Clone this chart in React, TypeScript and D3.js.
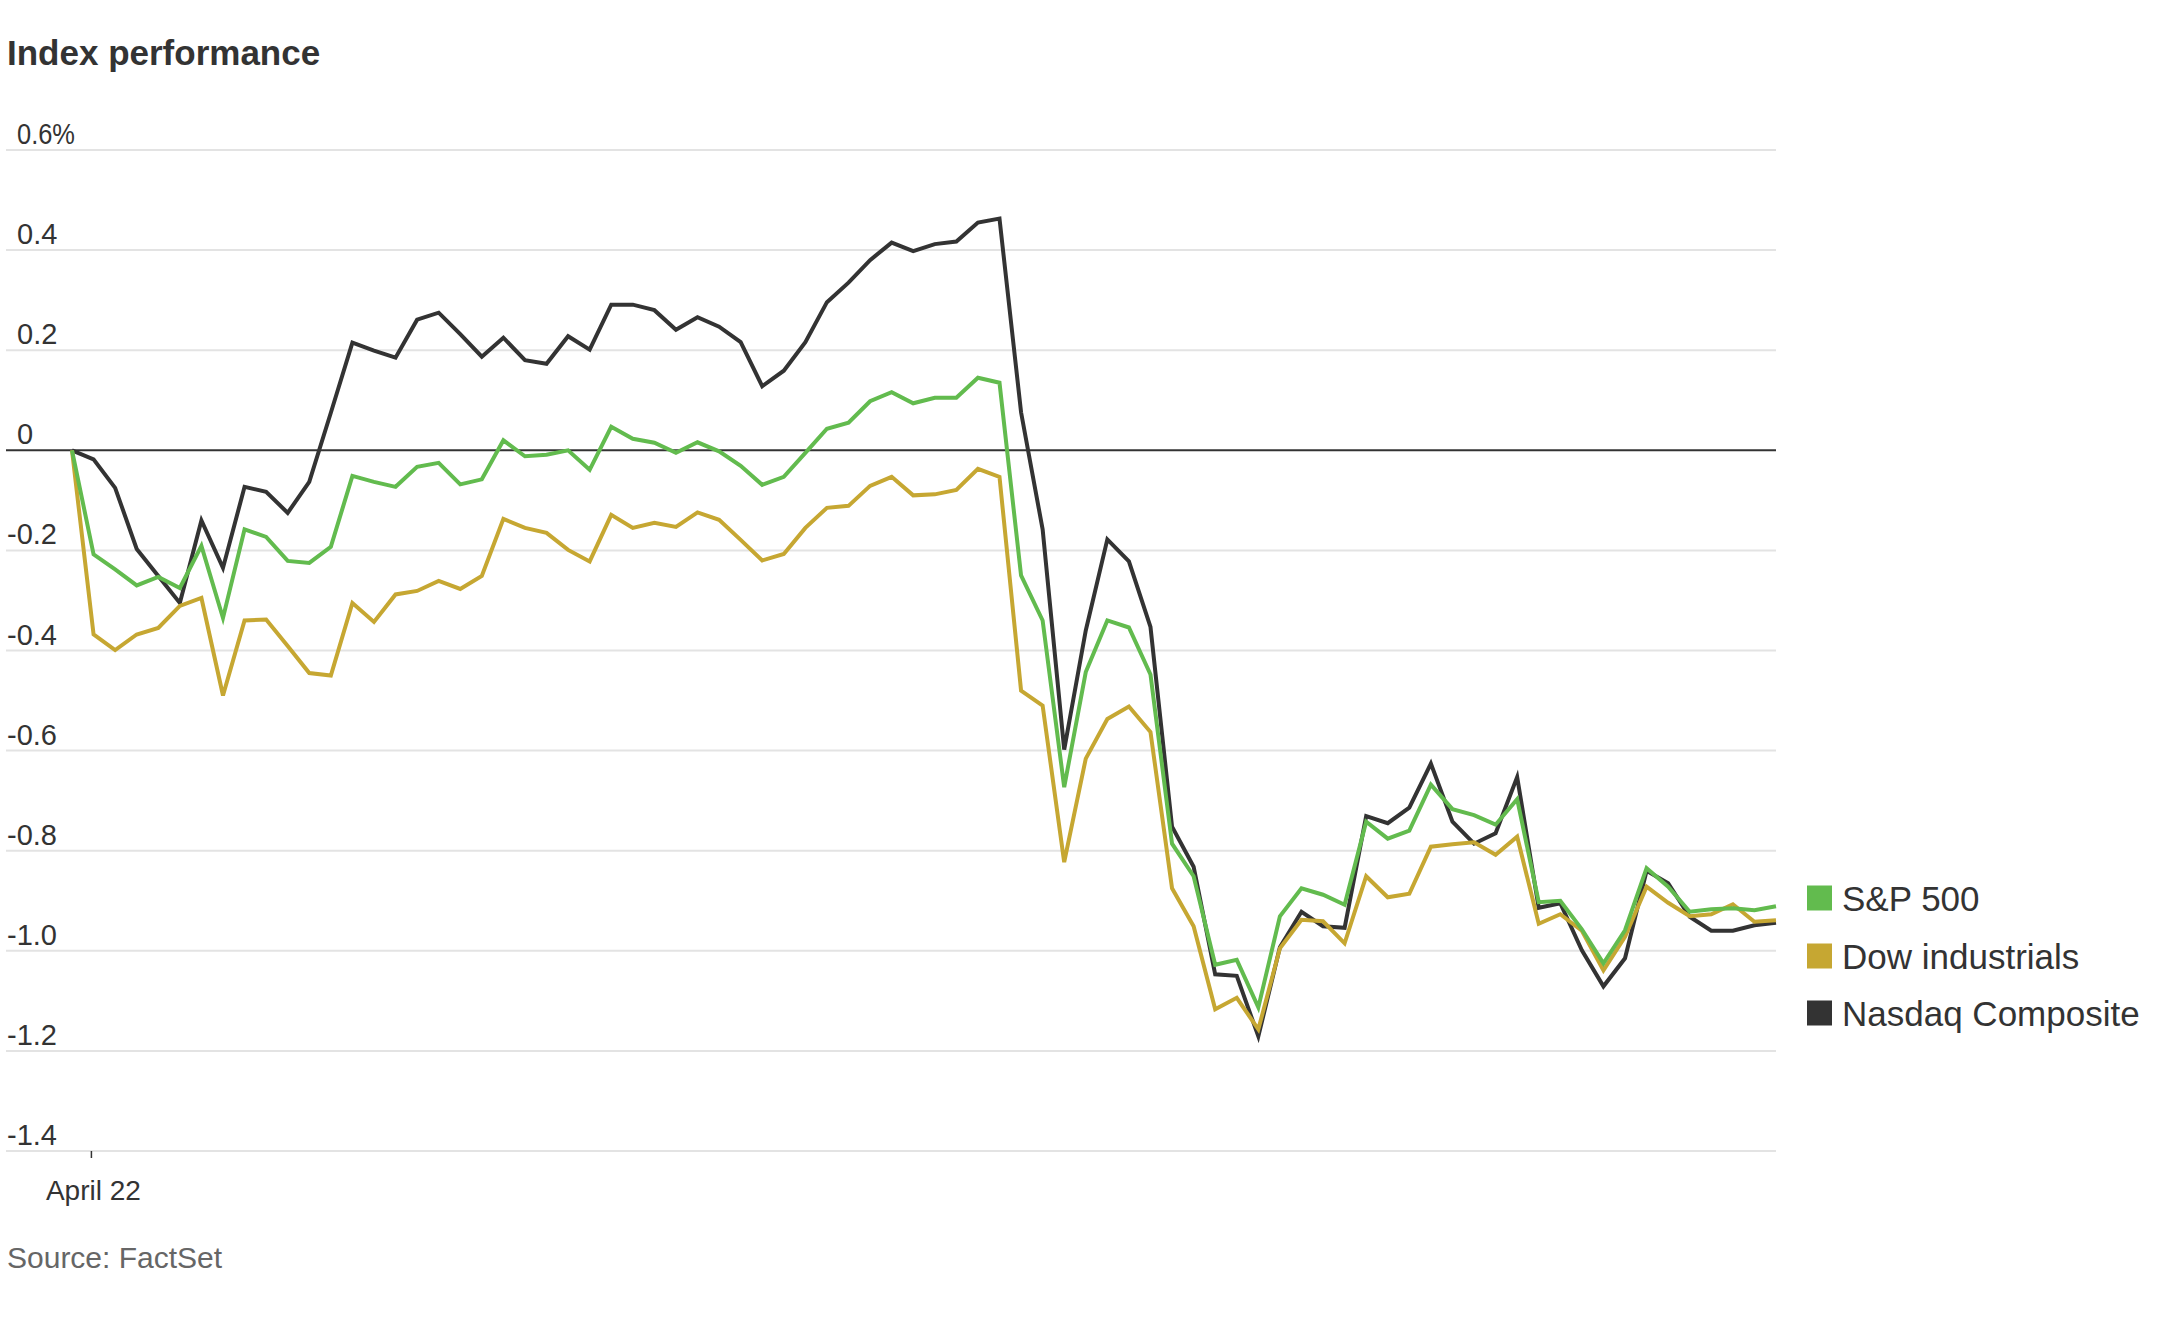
import React from "react";
import * as d3 from "d3";

const seriesNames = ["S&P 500", "Dow industrials", "Nasdaq Composite"];
const seriesColors = ["#62bb4e", "#c6a732", "#333333"];

const nasdaq = [
  0, -0.018, -0.075, -0.197, -0.251, -0.305, -0.14, -0.235, -0.073, -0.083,
  -0.125, -0.063, 0.075, 0.215, 0.199, 0.185, 0.261, 0.275, 0.232, 0.187,
  0.225, 0.18, 0.173, 0.228, 0.201, 0.291, 0.291, 0.28, 0.241, 0.266,
  0.247, 0.216, 0.128, 0.159, 0.216, 0.296, 0.335, 0.38, 0.415, 0.398,
  0.412, 0.417, 0.455, 0.463, 0.076, -0.158, -0.598, -0.36, -0.178, -0.222,
  -0.353, -0.752, -0.832, -1.047, -1.05, -1.171, -0.993, -0.922, -0.951, -0.954,
  -0.731, -0.745, -0.714, -0.626, -0.742, -0.786, -0.765, -0.653, -0.914, -0.905,
  -0.999, -1.071, -1.015, -0.84, -0.865, -0.932, -0.96, -0.96, -0.949, -0.944,
];

const sp500 = [
  0, -0.208, -0.238, -0.27, -0.253, -0.275, -0.191, -0.335, -0.158, -0.173,
  -0.221, -0.225, -0.193, -0.051, -0.063, -0.073, -0.033, -0.025, -0.068, -0.058,
  0.02, -0.012, -0.009, 0.0, -0.039, 0.047, 0.023, 0.015, -0.005, 0.016,
  -0.002, -0.031, -0.069, -0.053, -0.005, 0.043, 0.055, 0.098, 0.116, 0.094,
  0.105, 0.105, 0.145, 0.135, -0.25, -0.34, -0.673, -0.443, -0.34, -0.354,
  -0.448, -0.786, -0.851, -1.028, -1.018, -1.113, -0.931, -0.875, -0.888, -0.908,
  -0.742, -0.776, -0.76, -0.668, -0.717, -0.729, -0.748, -0.697, -0.903, -0.9,
  -0.957, -1.025, -0.959, -0.835, -0.872, -0.922, -0.917, -0.915, -0.919, -0.911,
];

const dow = [
  0, -0.368, -0.399, -0.368, -0.355, -0.311, -0.295, -0.49, -0.34, -0.338,
  -0.391, -0.445, -0.45, -0.305, -0.343, -0.288, -0.281, -0.261, -0.277, -0.251,
  -0.137, -0.155, -0.165, -0.199, -0.222, -0.129, -0.155, -0.145, -0.153, -0.124,
  -0.139, -0.179, -0.22, -0.207, -0.155, -0.115, -0.111, -0.071, -0.053, -0.09,
  -0.088, -0.079, -0.037, -0.053, -0.48, -0.51, -0.823, -0.616, -0.537, -0.512,
  -0.563, -0.875, -0.951, -1.117, -1.094, -1.157, -0.995, -0.938, -0.941, -0.985,
  -0.851, -0.893, -0.886, -0.792, -0.787, -0.783, -0.808, -0.772, -0.946, -0.927,
  -0.96, -1.039, -0.972, -0.872, -0.904, -0.931, -0.927, -0.907, -0.942, -0.939,
];

const yTicks = [0.6, 0.4, 0.2, 0, -0.2, -0.4, -0.6, -0.8, -1.0, -1.2, -1.4];
const xTickValues = [0.9];
const xTickLabels = ["April 22"];

const FONT = "'Liberation Sans', Arial, sans-serif";

export default function App() {
  const W = 2170;
  const H = 1337;
  const x = d3.scaleLinear().domain([0, nasdaq.length - 1]).range([72, 1776]);
  const y = d3.scaleLinear().domain([-1.4, 0.6]).range([1151, 150]);
  const gridLeft = 6;
  const gridRight = 1776;

  const line = d3
    .line<number>()
    .x((_, i) => x(i))
    .y((d) => y(d));

  const fmt = (v: number) => {
    if (v === 0) return "0";
    const s = Math.abs(v).toFixed(1);
    return (v < 0 ? "-" : "") + s + (v === 0.6 ? "%" : "");
  };

  const drawOrder = [
    { data: nasdaq, color: seriesColors[2] },
    { data: dow, color: seriesColors[1] },
    { data: sp500, color: seriesColors[0] },
  ];

  const legendY = [898, 956, 1013];

  return (
    <svg
      width={W}
      height={H}
      style={{ position: "absolute", left: 0, top: 0, background: "#fff" }}
      fontFamily={FONT}
    >
      <rect x={0} y={0} width={W} height={H} fill="#fff" />
      <text x={7} y={65} fontSize={35} fontWeight="bold" fill="#333">
        Index performance
      </text>

      {yTicks.map((t) => (
        <g key={t}>
          {t !== 0 && (
            <line
              x1={gridLeft}
              x2={gridRight}
              y1={y(t)}
              y2={y(t)}
              stroke="#e3e3e3"
              strokeWidth={2}
            />
          )}
          <text
            x={t < 0 ? 7 : 17}
            y={y(t) - 6}
            fontSize={29}
            fill="#333"
            textLength={t === 0.6 ? 58 : undefined}
            lengthAdjust="spacingAndGlyphs"
          >
            {fmt(t)}
          </text>
        </g>
      ))}

      <line
        x1={gridLeft}
        x2={gridRight}
        y1={y(0)}
        y2={y(0)}
        stroke="#333"
        strokeWidth={2}
      />

      {xTickValues.map((v, i) => (
        <g key={v}>
          <line
            x1={x(v)}
            x2={x(v)}
            y1={y(-1.4)}
            y2={y(-1.4) + 7}
            stroke="#333"
            strokeWidth={1.5}
          />
          <text
            x={x(v) + 2}
            y={1200}
            fontSize={28}
            textAnchor="middle"
            fill="#333"
          >
            {xTickLabels[i]}
          </text>
        </g>
      ))}

      {drawOrder.map((s, i) => (
        <path
          key={i}
          d={line(s.data) || ""}
          fill="none"
          stroke={s.color}
          strokeWidth={4}
          strokeLinejoin="miter"
        />
      ))}

      {seriesNames.map((n, i) => (
        <g key={n}>
          <rect
            x={1807}
            y={legendY[i] - 12.5}
            width={25}
            height={25}
            fill={seriesColors[i]}
          />
          <text x={1842} y={legendY[i] + 12.5} fontSize={35} fill="#333">
            {n}
          </text>
        </g>
      ))}

      <text x={7} y={1268} fontSize={30} fill="#666">
        Source: FactSet
      </text>
    </svg>
  );
}
